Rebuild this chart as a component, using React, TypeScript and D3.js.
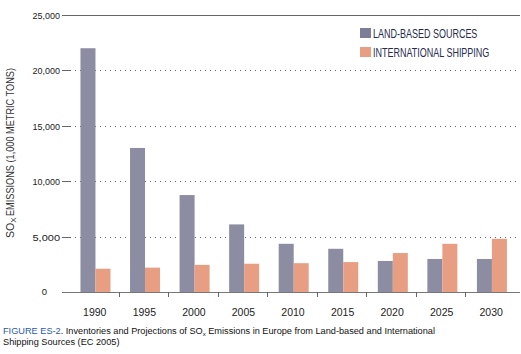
import React from "react";
import * as d3 from "d3";

const years = ["1990", "1995", "2000", "2005", "2010", "2015", "2020", "2025", "2030"];
const landBased = [22000, 13000, 8750, 6100, 4350, 3900, 2800, 2980, 2980];
const shipping = [2100, 2200, 2450, 2550, 2600, 2700, 3520, 4350, 4800];
const yTicks = [0, 5000, 10000, 15000, 20000, 25000];
const seriesNames = ["LAND-BASED SOURCES", "INTERNATIONAL SHIPPING"];

const W = 521;
const H = 354;
const LAND = "#8c8ca3";
const SHIP = "#e89e83";
const SANS = "'Liberation Sans', Arial, Helvetica, sans-serif";

export default function App() {
  const x = d3.scaleBand<string>().domain(years).range([70, 516]).paddingInner(0);
  const y = d3.scaleLinear().domain([0, 25000]).range([292, 15]);
  const barW = 15;
  const fmt = d3.format(",");
  const sx = 0.72;

  return (
    <svg width={W} height={H} style={{ position: "absolute", left: 0, top: 0, background: "#fff" }}>
      {/* gridlines */}
      {yTicks.map((t) => {
        if (t === 0) return null;
        const yy = Math.round(y(t)) + 0.5;
        return (
          <g key={t}>
            <line x1={62} x2={t === 25000 ? 520 : 71} y1={yy} y2={yy} stroke="#666" strokeWidth={1} />
            {t !== 25000 && (
              <line x1={75} x2={517} y1={yy} y2={yy} stroke="#666" strokeWidth={1} strokeDasharray="1,4" />
            )}
            <text x={60} y={yy} dy="0.36em" textAnchor="end" fontFamily={SANS} fontSize={9.5} fill="#222" textLength={27.5} lengthAdjust="spacingAndGlyphs">
              {fmt(t)}
            </text>
          </g>
        );
      })}
      <line x1={62} x2={67} y1={Math.round(y(0)) + 0.5} y2={Math.round(y(0)) + 0.5} stroke="#666" />
      <text x={47} y={y(0)} dy="0.36em" textAnchor="end" fontFamily={SANS} fontSize={9.5} fill="#222">
        0
      </text>

      {/* bars */}
      {years.map((yr, i) => {
        const cx = (x(yr) as number) + x.bandwidth() / 2 + 0.7;
        return (
          <g key={yr}>
            <rect x={cx - barW} y={y(landBased[i])} width={barW} height={y(0) - y(landBased[i])} fill={LAND} />
            <rect x={cx} y={y(shipping[i])} width={barW} height={y(0) - y(shipping[i])} fill={SHIP} />
            <text
              x={(x(yr) as number) + x.bandwidth() / 2}
              y={316}
              textAnchor="middle"
              fontFamily={SANS}
              fontSize={10.5}
              fill="#222"
            >
              {yr}
            </text>
          </g>
        );
      })}

      {/* x axis */}
      <line x1={63} x2={520} y1={Math.round(y(0)) + 0.5} y2={Math.round(y(0)) + 0.5} stroke="#777" strokeWidth={1.2} />
      {years.slice(1).map((yr) => {
        const xx = Math.round(x(yr) as number) - 0.5;
        return <line key={yr} x1={xx} x2={xx} y1={292} y2={297} stroke="#666" />;
      })}

      {/* y title */}
      <g transform="translate(14,153) rotate(-90)">
        <text x={-85} y={0} fontFamily={SANS} fontSize={10.5} fill="#333">
          SO<tspan fontSize={8} dy={2}>X</tspan>
        </text>
        <text x={-63} y={0} fontFamily={SANS} fontSize={10.5} fill="#333" textLength={148} lengthAdjust="spacingAndGlyphs">
          EMISSIONS (1,000 METRIC TONS)
        </text>
      </g>

      {/* legend */}
      {seriesNames.map((s, i) => (
        <g key={s} transform={`translate(360,${28 + i * 19})`}>
          <rect x={0} y={0} width={11} height={10} fill={i === 0 ? "#7d7d99" : SHIP} />
          <g transform={`translate(13,0) scale(${sx},1)`}>
            <text x={0} y={9.5} fontFamily={SANS} fontSize={12.5} fill="#262b4d">
              {s}
            </text>
          </g>
        </g>
      ))}

      {/* caption */}
      <text x={3} y={334} fontFamily={SANS} fontSize={9.2} fill="#111">
        <tspan fill="#2a5aa8">FIGURE ES-2</tspan>. Inventories and Projections of SO
        <tspan fontSize={6} dy={1.5}>x</tspan>
        <tspan dy={-1.5}> Emissions in Europe from Land-based and International</tspan>
      </text>
      <text x={3} y={345} fontFamily={SANS} fontSize={9.2} fill="#111">
        Shipping Sources (EC 2005)
      </text>
    </svg>
  );
}
